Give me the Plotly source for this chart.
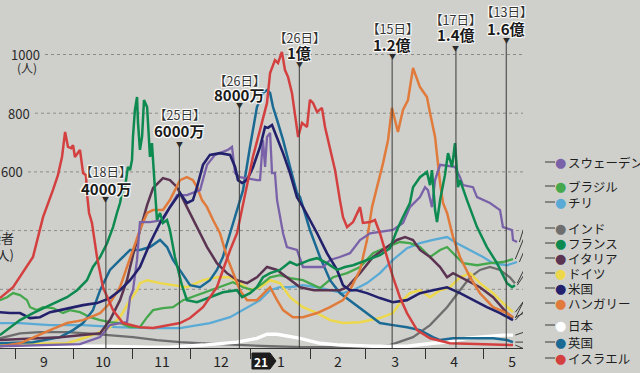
import pandas as pd
import plotly.graph_objects as go

BASE = pd.Timestamp("2020-09-01")

# ---- data: days since 2020-09-01, new cases per million ----
isr_days = [-7.8,-1,9.3,14.5,19.6,22.2,24.3,25.9,27.4,29,30,31,33.6,35.2,36.7,37.2,38.3,39.8,42.4,45.5,50.7,55.8,64.6,71.4,85.3,90.5,97.2,104.4,107.5,111.2,114.8,117.4,123,126.7,130.3,131.9,134.4,136,138,139.6,141.2,143.2,144.8,146.4,148.4,151,152.5,154.1,156.2,158.7,160.3,162.9,165.5,168,169.6,171.7,174.8,178.4,179.9,183.6,186.1,188.7,192.3,195.4,199,202.7,207.9,214.6,224.9,236.8,257.5]
isr_vals = [170,207,310,446,538,589,651,736,685,681,691,651,675,596,589,528,460,426,310,207,129,85,71,68,85,102,139,207,265,333,391,470,651,743,835,937,981,971,1009,947,923,869,787,719,767,753,845,835,804,818,753,675,606,504,446,412,429,480,426,429,436,391,310,242,173,119,61,33,16,13,10]

fra_days = [-7.8,-2.6,2.6,9.3,18.1,26.9,32.1,37.2,40.3,44,47.6,50.7,52.7,54.3,55.3,56.9,58.4,59.5,60.5,61,62,63.1,63.6,64.6,65.7,66.7,68.3,68.8,69.8,70.8,71.4,72.4,73.4,75,76.5,78.6,80.1,82.7,86.3,88.9,94.1,100.8,107.5,114.8,117.4,121.5,125.1,128.2,131.9,137,142.2,145.8,152.5,156.2,161.3,166.5,170.6,174.8,182,188.7,193.9,197.5,200.6,204.2,205.8,209.4,213,214.6,215.6,217.2,218.2,219.8,222.3,223.9,226,227.5,229.1,230.1,233.7,238.9,244,249.2,254.4,257,258.5]
fra_vals = [44,71,95,119,146,173,197,231,276,310,357,412,460,494,528,548,617,606,641,719,811,855,767,675,719,845,821,753,651,698,630,528,436,460,426,436,402,310,214,163,156,173,190,197,173,187,207,241,255,266,293,282,300,306,289,266,276,282,300,316,340,402,446,494,548,582,600,555,606,470,429,504,589,664,617,698,548,572,504,412,344,289,221,207,214]

bra_days = [-7.8,-4.1,-1,2.6,6.2,7.8,11.4,14.5,19.6,24.8,28.4,33.6,38.8,44,49.1,54.3,59.5,64.6,68.3,71.4,76.5,81.7,86.9,94.1,100.8,107.5,112.7,117.9,123.1,128.2,131.9,137,142.2,148.9,157.7,164.4,171.7,178.4,185.1,192.3,199,204.2,209.4,214.6,219.8,223.4,226.5,231.6,238.9,245.6,252.3,257.5]
bra_vals = [163,173,187,180,163,139,129,139,136,119,129,122,105,95,88,85,71,71,105,129,136,139,163,180,197,214,224,207,197,221,241,248,238,231,204,241,255,276,323,344,361,357,344,310,334,344,323,289,282,289,293,303]

chl_days = [-7.8,2.6,18.1,35.2,52.7,69.8,85.3,100.8,111.2,120,126.7,131.9,137,142.2,148.9,156.2,162.9,169.6,174.8,182,188.7,195.4,202.7,209.4,216.1,223.4,228.5,235.3,242,247.2,254.4,259.6]
chl_vals = [85,85,78,78,71,68,68,85,105,139,163,197,207,207,214,207,197,187,197,221,255,300,340,357,368,378,357,334,310,289,282,293]

ind_days = [-7.8,2.6,12.9,26.9,37.2,49.1,61,73.4,85.3,97.2,114.8,131.9,148.9,173.2,185.1,193.9,205.8,214.6,223.4,230.1,235.3,240.4,245.6,250.8,255.9,258.5]
ind_vals = [33,50,54,54,50,44,37,27,20,16,10,6,3,2,3,10,37,78,139,197,241,266,276,266,241,221]

jpn_days = [-7.8,18.1,44,69.8,80.1,97.2,114.8,125.1,128.2,130.3,135.5,142.2,147.4,157.7,168,185.1,202.7,216.1,223.4,233.7,244,252.3,257.5]
jpn_vals = [6,6,6,3,3,10,20,33,40,47,47,40,33,16,10,6,6,16,20,33,40,44,44]

gbr_days = [-7.8,9.3,23.3,30,35.2,40.3,44,49.1,54.3,59.5,64.6,69.8,75,78.6,81.7,85.3,90.5,95.7,100.8,104.4,107.5,111.2,114.8,117.9,121.5,125.1,128.2,130.3,131.9,133.4,135.5,138.6,142.2,145.8,147.4,152.5,157.7,162.9,168,174.8,182,188.7,195.4,202.7,209.4,216.1,219.8,226.5,236.8,247.2,254.4,257.5]
gbr_vals = [16,20,37,61,85,129,197,266,300,334,334,344,368,344,300,266,214,207,231,266,310,391,470,538,685,821,869,879,869,821,777,709,617,528,514,402,310,231,187,153,119,85,78,71,61,37,27,33,33,33,27,20]

usa_days = [-7.8,-2.6,2.6,7.8,12.9,18.1,23.3,28.4,35.2,42.4,49.1,54.3,59.5,64.6,69.8,75,80.1,85.3,88.9,92,94.1,97.2,100.8,106,111.2,113.8,115.3,117.4,120,123.1,126.7,129.3,130.8,132.9,135.5,138.6,142.2,145.8,148.9,156.2,161.3,166.5,169.6,173.2,176.8,182,188.7,195.4,202.7,209.4,216.1,223.4,230.1,236.8,244,250.8,257.5]
usa_vals = [122,119,119,102,105,122,129,136,146,153,170,197,231,276,357,426,480,528,494,504,548,624,658,664,658,617,572,562,572,617,685,753,750,760,719,664,596,514,480,391,323,266,214,197,197,187,170,156,163,187,197,207,187,163,139,119,95]

hun_days = [-7.8,2.6,18.1,26.9,35.2,44,49.1,54.3,57.9,61,64.6,68.3,71.4,76.5,80.1,85.3,88.9,92,94.1,96.7,99.3,102.4,106,109.6,112.7,116.3,120,125.1,130.3,131.9,135.5,138.6,143.7,148.9,156.2,162.9,169.6,173.2,178.4,182,184.6,187.2,188.7,190.3,192.9,194.9,198,200.6,203.2,205.8,209.4,213,214.6,217.2,219.8,221.3,223.4,226.5,230.1,235.3,240.4,247.2,254.4,257.5]
hun_vals = [6,16,61,85,95,119,153,207,276,334,402,460,470,470,504,572,582,572,548,504,480,436,391,310,255,197,163,163,197,207,163,129,105,105,119,139,163,197,266,368,480,548,582,630,709,818,736,811,845,954,889,855,801,719,562,494,460,378,310,241,187,139,119,105]

ita_days = [-7.8,23.3,44,49.1,54.3,57.9,61,64.6,68.3,71.4,76.5,80.1,83.8,88.9,94.1,99.3,104.4,109.6,114.8,120,125.1,130.3,135.5,140.6,147.4,154.6,162.9,168,171.7,178.4,185.1,192.3,197.5,201.7,205.8,209.4,214.6,219.8,223.4,226.5,233.7,240.4,247.2,254.4,257.5]
ita_vals = [27,37,50,95,163,231,316,402,487,545,579,572,548,480,412,344,289,255,231,221,241,276,266,241,207,197,197,197,207,255,310,344,368,378,368,334,310,276,241,255,231,207,173,119,102]

deu_days = [-7.8,26.9,35.2,42.4,49.1,54.3,59.5,63.1,64.6,68.3,75,81.7,88.9,97.2,104.4,111.2,116.3,121.5,126.7,131.9,137,142.2,148.9,156.2,162.9,169.6,178.4,188.7,195.4,199,204.2,209.4,214.6,219.8,224.9,230.1,235.3,240.4,247.2,252.3,257.5]
deu_vals = [13,16,33,50,71,105,163,197,221,231,221,214,207,231,241,241,221,197,207,231,221,173,139,119,95,85,88,102,119,153,187,197,173,197,207,241,255,221,187,153,122]

swe_days = [-7.8,12.9,33.6,44,49.1,54.3,57.9,59.5,61,63.1,64.6,69.8,76.5,80.1,83.8,88.9,95.7,99.3,103.4,110.1,112.2,113.8,116.3,125.1,126.7,128.2,129.3,130.3,131.9,132.9,134.4,135.5,138.6,140.6,145.8,148.9,159.3,162.9,168,173.2,178.4,183.6,195.4,200.6,204.2,209.4,212,213.5,215.6,217.2,219.8,227.5,230.1,231.6,236.8,238.9,245.6,250.8,252.3,257,257.5,259.6]
swe_vals = [6,10,13,37,78,85,88,173,197,300,429,429,436,480,521,521,538,624,658,675,685,596,582,572,572,709,617,719,733,596,596,504,391,344,334,276,276,300,310,323,368,391,402,426,480,514,548,538,480,572,624,617,582,555,548,514,494,470,412,402,368,361]

# milestone data (global cumulative cases)
ms_dates = ["2020-10-18", "2020-11-25", "2020-12-26", "2021-01-26", "2021-03-15", "2021-04-17", "2021-05-13"]
ms_day_labels = ["【18日】", "【25日】", "【26日】", "【26日】", "【15日】", "【17日】", "【13日】"]
ms_totals = ["4000万", "6000万", "8000万", "1億", "1.2億", "1.4億", "1.6億"]

grid_values = [1000, 800, 600, 400, 200]
ytick_values = [1000, 800, 600]

legend_names = ["スウェーデン", "ブラジル", "チリ", "インド", "フランス", "イタリア", "ドイツ", "米国", "ハンガリー", "日本", "英国", "イスラエル"]

# ---- styling ----
FONT = "Noto Sans CJK JP"
BG = "#cfd0cc"
series = {
    "スウェーデン": (swe_days, swe_vals, "#7a62a8", 2.3),
    "ブラジル": (bra_days, bra_vals, "#46a84c", 2.3),
    "チリ": (chl_days, chl_vals, "#5aaad6", 2.3),
    "インド": (ind_days, ind_vals, "#6e6e6e", 2.3),
    "フランス": (fra_days, fra_vals, "#0d8a50", 2.5),
    "イタリア": (ita_days, ita_vals, "#5b3452", 2.5),
    "ドイツ": (deu_days, deu_vals, "#ecd84a", 2.5),
    "米国": (usa_days, usa_vals, "#23216c", 2.6),
    "ハンガリー": (hun_days, hun_vals, "#e07b3c", 2.5),
    "日本": (jpn_days, jpn_vals, "#ffffff", 3.4),
    "英国": (gbr_days, gbr_vals, "#1b6a94", 2.5),
    "イスラエル": (isr_days, isr_vals, "#d3403f", 2.5),
}
draw_order = ["インド", "日本", "チリ", "ドイツ", "ブラジル", "英国", "イタリア", "ハンガリー",
              "スウェーデン", "米国", "フランス", "イスラエル"]

W, H = 640, 373
PW, PH = 523, 348          # plot area size in px
PX_DAY, SEP1_PX = 1.934, 15
VAL_PX = 0.2935
YMAX = PH / VAL_PX


def to_dates(days):
    return [BASE + pd.Timedelta(days=d) for d in days]


def px2date(px):
    return BASE + pd.Timedelta(days=(px - SEP1_PX) / PX_DAY)


def py2val(py):
    return (PH - py) / VAL_PX


def xp(px):
    return px / PW


def yp(py):
    return (PH - py) / PH


fig = go.Figure()
for name in draw_order:
    d, v, c, w = series[name]
    assert len(d) == len(v), name
    fig.add_trace(go.Scatter(x=to_dates(d), y=v, mode="lines",
                             line=dict(color=c, width=w), name=name,
                             showlegend=False, hoverinfo="skip"))

shapes = []
annotations = []

# gridlines
grid_x0_px = [45, 35, 28, 0, 0]
for val, x0 in zip(grid_values, grid_x0_px):
    shapes.append(dict(type="line", xref="paper", yref="y", x0=xp(x0), x1=1, y0=val, y1=val,
                       line=dict(color="#8a8a88", width=1, dash="dot"), layer="below"))

# y tick labels
ytick_right_px = [42, 32, 25]
for val, xr in zip(ytick_values, ytick_right_px):
    annotations.append(dict(text=str(val), xref="paper", yref="y", x=xp(xr), y=val,
                            xanchor="right", yanchor="middle", showarrow=False,
                            font=dict(family=FONT, size=13, color="#2a2a2a")))
annotations.append(dict(text="(人)", xref="paper", yref="y", x=xp(39), y=1000, yshift=-13,
                        xanchor="right", yanchor="middle", showarrow=False,
                        font=dict(family=FONT, size=12, color="#2a2a2a")))
annotations.append(dict(text="新規感染者<br>(人)", xref="paper", yref="paper", x=xp(16), y=yp(246),
                        xanchor="right", yanchor="middle", align="right", showarrow=False,
                        font=dict(family=FONT, size=13, color="#2a2a2a")))

# milestones
ms_top_px = [198, 143, 104, 63, 55, 47, 39]
ms_day_py = [171, 114, 80, 37, 28, 19, 12]
ms_tot_py = [188, 130, 95, 53, 45, 35, 28]
halo = "1px 1px 1px #ffffff, -1px -1px 1px #ffffff, 1px -1px 1px #ffffff, -1px 1px 1px #ffffff"
for dt, dl, tot, top, dpy, tpy in zip(ms_dates, ms_day_labels, ms_totals, ms_top_px, ms_day_py, ms_tot_py):
    shapes.append(dict(type="line", xref="x", yref="paper", x0=dt, x1=dt, y0=0, y1=yp(top + 3),
                       line=dict(color="#3a3a3a", width=1)))
    annotations.append(dict(text="▼", xref="x", yref="paper", x=dt, y=yp(top + 1),
                            showarrow=False, yanchor="middle", xanchor="center",
                            font=dict(family=FONT, size=7, color="#2a2a2a")))
    annotations.append(dict(text=dl, xref="x", yref="paper", x=dt, y=yp(dpy),
                            showarrow=False, yanchor="middle", xanchor="center",
                            font=dict(family=FONT, size=12.5, color="#333333", shadow=halo)))
    annotations.append(dict(text="<b>" + tot + "</b>", xref="x", yref="paper", x=dt, y=yp(tpy),
                            showarrow=False, yanchor="middle", xanchor="center",
                            font=dict(family=FONT, size=15, color="#1a1a1a", shadow=halo)))

# legend with leader lines
legend_py = [162, 186, 202, 228, 243, 258, 273, 288, 303, 325, 342, 358]
for name, ly in zip(legend_names, legend_py):
    d, v, c, w = series[name]
    annotations.append(dict(text="●", xref="paper", yref="paper", x=xp(560), y=yp(ly),
                            showarrow=False, xanchor="center", yanchor="middle",
                            font=dict(family="DejaVu Sans", size=13, color=c)))
    annotations.append(dict(text=name, xref="paper", yref="paper", x=xp(566), y=yp(ly),
                            showarrow=False, xanchor="left", yanchor="middle",
                            font=dict(family=FONT, size=12.5, color="#1e1e1e")))
    shapes.append(dict(type="line", xref="paper", yref="paper", x0=xp(545), x1=xp(555),
                       y0=yp(ly), y1=yp(ly), line=dict(color="#3a3a3a", width=1)))
    end_date = BASE + pd.Timedelta(days=d[-1] + 1.2)
    shapes.append(dict(type="line", xref="x", yref="y", x0=px2date(545), y0=py2val(ly),
                       x1=end_date, y1=v[-1], line=dict(color="#3a3a3a", width=1)))

# year badge "21"
bx = [252, 270, 276, 270, 252]
by = [353, 353, 361, 369, 369]
path = "M " + " L ".join(f"{xp(a):.4f},{yp(b):.4f}" for a, b in zip(bx, by)) + " Z"
shapes.append(dict(type="path", xref="paper", yref="paper", path=path,
                   fillcolor="#1c1c1c", line=dict(color="#1c1c1c", width=1)))
annotations.append(dict(text="<b>21</b>", xref="paper", yref="paper", x=xp(261), y=yp(361),
                        showarrow=False, xanchor="center", yanchor="middle",
                        font=dict(family=FONT, size=12, color="#ffffff")))

fig.update_layout(
    width=W, height=H,
    margin=dict(l=0, r=W - PW, t=0, b=H - PH, autoexpand=False),
    paper_bgcolor=BG, plot_bgcolor=BG,
    showlegend=False,
    shapes=shapes, annotations=annotations,
    xaxis=dict(type="date", range=[px2date(0), px2date(PW)], automargin=False,
               showline=True, linecolor="#333333", linewidth=1,
               ticks="outside", ticklen=10, tickcolor="#333333", tickwidth=1,
               dtick="M1", tick0="2020-09-01", ticklabelmode="period", tickformat="%-m",
               ticklabelstandoff=-9,
               tickfont=dict(family=FONT, size=14, color="#222222"),
               showgrid=False, zeroline=False),
    yaxis=dict(range=[0, YMAX], showticklabels=False, showgrid=False, zeroline=False,
               ticks="", automargin=False),
)

fig.write_html("out.html", config={"displayModeBar": False},
               post_script="document.body.style.margin='0px';document.body.style.background='" + BG + "';")
